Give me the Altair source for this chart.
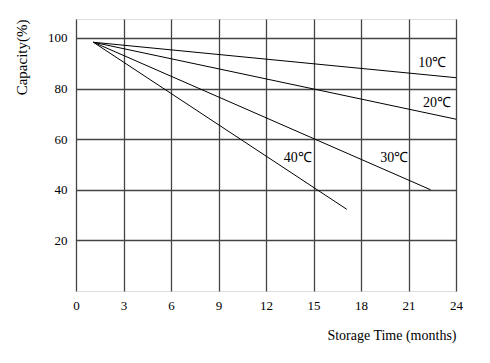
import altair as alt
import pandas as pd

series = ["10℃", "20℃", "30℃", "40℃"]
start_x = [1.1, 1.1, 1.1, 1.1]
start_y = [98.3, 98.3, 98.3, 98.3]
end_x = [24, 24, 22.4, 17.1]
end_y = [84.3, 67.9, 40.0, 32.3]

label_x = [22.5, 22.8, 20.1, 14.0]
label_y = [90.0, 74.4, 52.4, 52.4]

x_ticks = [0, 3, 6, 9, 12, 15, 18, 21, 24]
y_ticks = [20, 40, 60, 80, 100]

rows = []
for s, x0, y0, x1, y1 in zip(series, start_x, start_y, end_x, end_y):
    rows.append({"s": s, "x": x0, "y": y0})
    rows.append({"s": s, "x": x1, "y": y1})
lines_df = pd.DataFrame(rows)
labels_df = pd.DataFrame({"s": series, "x": label_x, "y": label_y})

FONT = "Liberation Serif"

xs = alt.Scale(domain=[0, 24], nice=False, zero=False)
ys = alt.Scale(domain=[0, 107.5], nice=False, zero=False)

lines = alt.Chart(lines_df).mark_line(color="black", strokeWidth=1).encode(
    x=alt.X("x:Q", scale=xs, axis=alt.Axis(
        values=x_ticks, title="Storage Time (months)", titleAnchor="end",
        titleFont=FONT, titleFontSize=14, titleFontWeight="normal", titlePadding=16,
        labelFont=FONT, labelFontSize=13, labelPadding=8, ticks=False, labelFlush=False,
        grid=True, gridColor="#444", gridWidth=1.3, gridOpacity=1,
        domain=False, labelColor="black", titleColor="black")),
    y=alt.Y("y:Q", scale=ys, axis=alt.Axis(
        values=y_ticks, title="Capacity(%)", titleAnchor="end",
        titleFont=FONT, titleFontSize=15, titleFontWeight="normal", titlePadding=18,
        labelFont=FONT, labelFontSize=13, labelPadding=9, ticks=False, labelFlush=False,
        grid=True, gridColor="#444", gridWidth=1.3, gridOpacity=1,
        domain=False, labelColor="black", titleColor="black")),
    detail="s:N",
)

labels = alt.Chart(labels_df).mark_text(font=FONT, fontSize=14, color="black").encode(
    x=alt.X("x:Q", scale=xs),
    y=alt.Y("y:Q", scale=ys),
    text="s:N",
)

chart = (lines + labels).properties(
    width=380, height=272,
    autosize=alt.AutoSizeParams(type="none"),
    padding={"left": 68, "top": 11, "right": 26, "bottom": 64},
).configure_view(stroke="#333", strokeWidth=1.5).configure(background="white")

chart.save("out.html", embed_options={"renderer": "svg", "actions": False})
